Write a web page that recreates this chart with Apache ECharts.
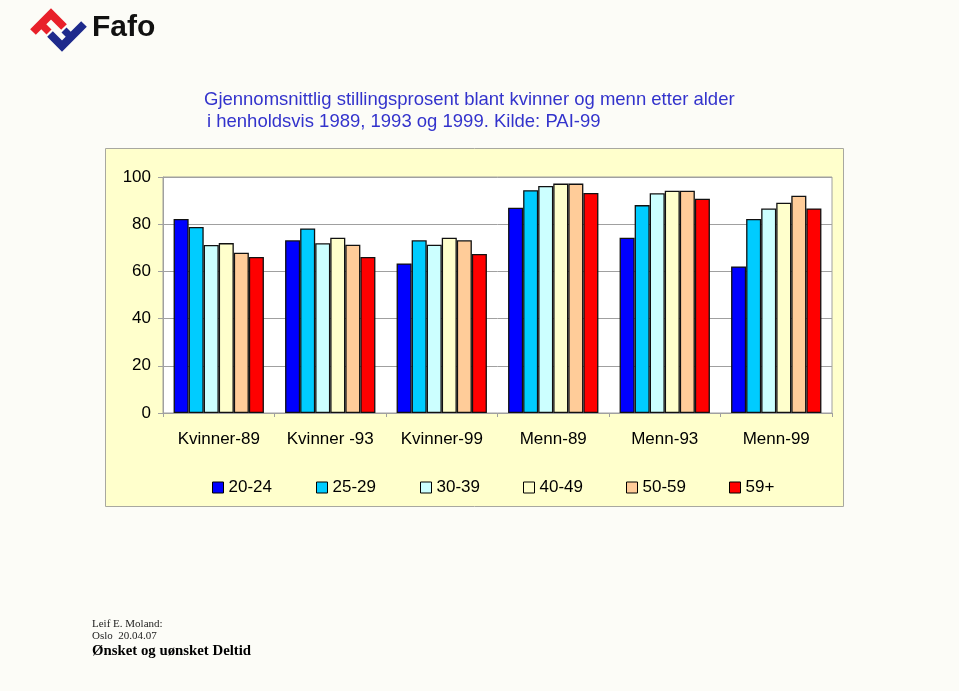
<!DOCTYPE html>
<html>
<head>
<meta charset="utf-8">
<script src="https://cdn.jsdelivr.net/npm/echarts@6/dist/echarts.min.js"></script>
<style>
html,body{margin:0;padding:0;background:#FCFCF7;}
#chart{width:959px;height:691px;}
</style>
</head>
<body>
<div id="chart"></div>
<script>
const categories = ['Kvinner-89', 'Kvinner -93', 'Kvinner-99', 'Menn-89', 'Menn-93', 'Menn-99'];
const seriesNames = ['20-24', '25-29', '30-39', '40-49', '50-59', '59+'];
const age2024 = [82.2, 73.2, 63.4, 87.0, 74.3, 62.1];
const age2529 = [78.8, 78.2, 73.2, 94.4, 88.1, 82.2];
const age3039 = [71.2, 71.9, 71.3, 96.2, 93.1, 86.7];
const age4049 = [72.0, 74.3, 74.3, 97.2, 94.2, 89.1];
const age5059 = [67.9, 71.3, 73.2, 97.2, 94.2, 92.1];
const age59p  = [66.1, 66.1, 67.4, 93.2, 90.8, 86.7];
const yTicks = [0, 20, 40, 60, 80, 100];

const values = [age2024, age2529, age3039, age4049, age5059, age59p];
const colors = ['#0000FF', '#00CCFF', '#CCFFFF', '#FFFFCC', '#FFCC99', '#FF0000'];

const chart = echarts.init(document.getElementById('chart'));
const font = '"Liberation Sans", Arial, sans-serif';
const serif = '"Liberation Serif", "Times New Roman", serif';

const legendLefts = [207, 311, 415, 518, 621, 724];

chart.setOption({
  backgroundColor: '#FCFCF7',
  animation: false,
  textStyle: { fontFamily: font },
  grid: {
    left: 163, right: 127, top: 177, bottom: 278,
    show: true, backgroundColor: '#FFFFFF', borderColor: '#A0A0A0', borderWidth: 1,
    containLabel: false
  },
  legend: seriesNames.map((n, i) => ({
    data: [n],
    left: legendLefts[i], top: 474,
    itemWidth: 11, itemHeight: 11, itemGap: 5,
    icon: 'rect',
    textStyle: { fontSize: 17, color: '#000', fontFamily: font },
    itemStyle: { borderColor: '#000', borderWidth: 1 }
  })),
  xAxis: {
    type: 'category',
    data: categories,
    axisLine: { lineStyle: { color: '#A0A0A0' } },
    axisTick: { show: true, length: 4, interval: 0, lineStyle: { color: '#A0A0A0' } },
    axisLabel: { fontSize: 17, color: '#000', margin: 18, interval: 0, fontFamily: font }
  },
  yAxis: {
    type: 'value', min: 0, max: 100, interval: 20,
    axisLine: { show: true, lineStyle: { color: '#A0A0A0' } },
    axisTick: { show: true, length: 5, lineStyle: { color: '#A0A0A0' } },
    axisLabel: { fontSize: 17, color: '#000', margin: 12, fontFamily: font,
      formatter: v => yTicks.includes(v) ? String(v) : '' },
    splitLine: { lineStyle: { color: '#A0A0A0', width: 1 } }
  },
  series: seriesNames.map((n, i) => ({
    name: n, type: 'bar', data: values[i],
    barGap: '0%', barCategoryGap: '19%',
    itemStyle: { color: colors[i], borderColor: '#111', borderWidth: 1.3 }
  })),
  graphic: [
    { type: 'rect', z: -10, shape: { x: 105.5, y: 148.5, width: 738, height: 358 },
      style: { fill: '#FFFFCC', stroke: '#A8A8A0', lineWidth: 1 } },
    { type: 'text', left: 204, top: 90,
      style: { text: 'Gjennomsnittlig stillingsprosent blant kvinner og menn etter alder',
        font: '18.5px ' + font, fill: '#3333CC' } },
    { type: 'text', left: 207, top: 112,
      style: { text: 'i henholdsvis 1989, 1993 og 1999. Kilde: PAI-99',
        font: '18.5px ' + font, fill: '#3333CC' } },
    // logo
    { type: 'polyline', shape: { points: [[33, 32], [51, 14], [64, 27]] },
      style: { stroke: '#E8202A', lineWidth: 8, fill: null, lineJoin: 'miter', lineCap: 'butt' } },
    { type: 'polyline', shape: { points: [[41, 24], [49, 32]] },
      style: { stroke: '#E8202A', lineWidth: 7, fill: null } },
    { type: 'polyline', shape: { points: [[50, 34], [62, 46], [84, 24]] },
      style: { stroke: '#1E2A8C', lineWidth: 8, fill: null, lineJoin: 'miter', lineCap: 'butt' } },
    { type: 'polyline', shape: { points: [[64, 30], [72, 38]] },
      style: { stroke: '#1E2A8C', lineWidth: 7, fill: null } },
    { type: 'text', left: 92, top: 13,
      style: { text: 'Fafo', font: 'bold 30px ' + font, fill: '#111' } },
    // footer
    { type: 'text', left: 92, top: 619,
      style: { text: 'Leif E. Moland:', font: '11px ' + serif, fill: '#222' } },
    { type: 'text', left: 92, top: 631,
      style: { text: 'Oslo  20.04.07', font: '11px ' + serif, fill: '#222' } },
    { type: 'text', left: 92, top: 644,
      style: { text: 'Ønsket og uønsket Deltid', font: 'bold 14.8px ' + serif, fill: '#000' } }
  ]
});
</script>
</body>
</html>
